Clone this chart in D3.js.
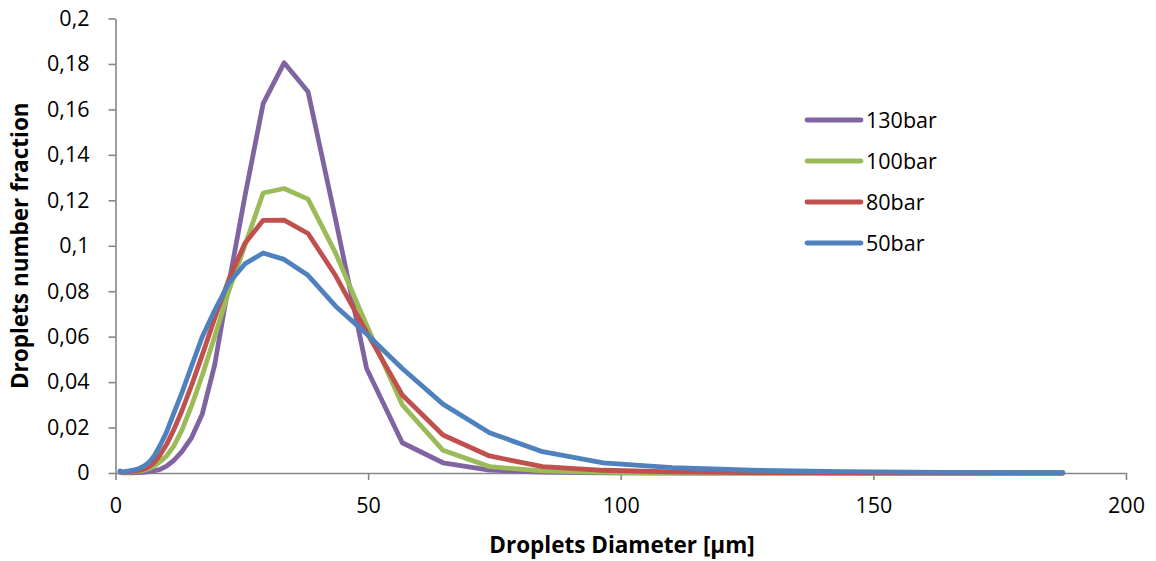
<!DOCTYPE html>
<html>
<head>
<meta charset="utf-8">
<script src="https://cdn.jsdelivr.net/npm/d3@7"></script>
<style>
  html, body { margin: 0; padding: 0; background: #fff; }
  svg { display: block; }
  text { font-family: "Open Sans", "Noto Sans", sans-serif; fill: #000; }
</style>
</head>
<body>
<svg id="chart" width="1156" height="561"></svg>
<script>
// Droplet diameter classes [µm]
const diameters = [0.93, 1.06, 1.21, 1.38, 1.57, 1.80, 2.05, 2.34, 2.68, 3.06, 3.49, 3.99,
  4.55, 5.20, 5.94, 6.78, 7.74, 8.84, 10.10,
  11.53, 13.17, 15.04, 17.18, 19.62, 22.41, 25.59,
  29.22, 33.37, 38.11, 43.52, 49.70,
  56.76, 64.82, 74.02, 84.53, 96.54,
  110.25, 125.9, 143.8, 164.2, 187.5];

// Number fraction per class for each injection pressure
const bar130 = [0.0002, 0.0002, 0.0001, 0.0001, 0.0001, 0.0001, 0.0001, 0.0001, 0.0001, 0.0001, 0.0001, 0.0002,
  0.0002, 0.0003, 0.0004, 0.0007, 0.0010, 0.0016, 0.0030,
  0.0055, 0.0095, 0.0155, 0.0260, 0.0475, 0.0830, 0.1215,
  0.1625, 0.1805, 0.1678, 0.1120, 0.0460,
  0.0133, 0.0045, 0.0013, 0.0004, 0.0001,
  0, 0, 0, 0, 0];
const bar100 = [0.0006, 0.0004, 0.0003, 0.0003, 0.0003, 0.0003, 0.0003, 0.0004, 0.0004, 0.0005, 0.0006, 0.0007,
  0.0008, 0.0010, 0.0014, 0.0020, 0.0032, 0.0050, 0.0075,
  0.0118, 0.0190, 0.0295, 0.0430, 0.0600, 0.0800, 0.1000,
  0.1232, 0.1252, 0.1205, 0.0970, 0.0650,
  0.0300, 0.0100, 0.0028, 0.0009, 0.0003,
  0.0001, 0, 0, 0, 0];
const bar80 = [0.0008, 0.0006, 0.0005, 0.0004, 0.0004, 0.0004, 0.0005, 0.0005, 0.0006, 0.0007, 0.0008, 0.0009,
  0.0011, 0.0014, 0.0020, 0.0030, 0.0048, 0.0080, 0.0125,
  0.0190, 0.0275, 0.0385, 0.0520, 0.0680, 0.0850, 0.1010,
  0.1112, 0.1113, 0.1054, 0.0870, 0.0620,
  0.0343, 0.0167, 0.0075, 0.0028, 0.0012,
  0.0005, 0.0002, 0.0001, 0, 0];
const bar50 = [0.0009, 0.0007, 0.0006, 0.0005, 0.0005, 0.0006, 0.0007, 0.0008, 0.0009, 0.0011, 0.0013, 0.0015,
  0.0019, 0.0025, 0.0035, 0.0050, 0.0078, 0.0122, 0.0180,
  0.0262, 0.0355, 0.0470, 0.0600, 0.0715, 0.0835, 0.0920,
  0.0968, 0.0940, 0.0870, 0.0735, 0.0612,
  0.0460, 0.0303, 0.0177, 0.0094, 0.0045,
  0.0024, 0.0012, 0.0006, 0.0003, 0.0001];

const seriesNames = ["130bar", "100bar", "80bar", "50bar"];
const seriesValues = [bar130, bar100, bar80, bar50];
const seriesColors = ["#8064A2", "#9BBB59", "#C0504D", "#4F81BD"];

const xTicks = [0, 50, 100, 150, 200];
const yTicks = [0, 0.02, 0.04, 0.06, 0.08, 0.1, 0.12, 0.14, 0.16, 0.18, 0.2];

const xTitle = "Droplets Diameter [µm]";
const yTitle = "Droplets number fraction";

// Layout
const plot = { left: 115.5, right: 1126, top: 18.5, bottom: 473 };
const axisColor = "#868686";

const svg = d3.select("#chart");
svg.append("rect").attr("width", 1156).attr("height", 561).attr("fill", "#fff");

const x = d3.scaleLinear().domain([0, 200]).range([plot.left, plot.right]);
const y = d3.scaleLinear().domain([0, 0.2]).range([plot.bottom, plot.top]);

const locale = d3.formatLocale({ decimal: ",", thousands: ".", grouping: [3], currency: ["", "€"] });
const fmt = locale.format("~g");

// Y axis
const yAxis = svg.append("g")
  .attr("transform", `translate(${plot.left},0)`)
  .call(d3.axisLeft(y).tickValues(yTicks).tickFormat(fmt).tickSize(7).tickPadding(19).tickSizeOuter(0));
// X axis
const xAxis = svg.append("g")
  .attr("transform", `translate(0,${plot.bottom})`)
  .call(d3.axisBottom(x).tickValues(xTicks).tickFormat(d => d).tickSize(7).tickPadding(18).tickSizeOuter(0));

[xAxis, yAxis].forEach(g => {
  g.select(".domain").attr("stroke", axisColor).attr("stroke-width", 1.6);
  g.selectAll(".tick line").attr("stroke", axisColor).attr("stroke-width", 1.6);
  g.selectAll(".tick text").attr("font-size", 21.5).attr("fill", "#000")
    .attr("font-family", "'Open Sans', sans-serif");
});

// Series lines (first series drawn underneath)
const line = d3.line()
  .x((d, i) => x(diameters[i]))
  .y(d => y(d));

const lines = svg.append("g");
seriesValues.forEach((vals, k) => {
  lines.append("path")
    .datum(vals)
    .attr("d", line)
    .attr("fill", "none")
    .attr("stroke", seriesColors[k])
    .attr("stroke-width", 4.8)
    .attr("stroke-linejoin", "round")
    .attr("stroke-linecap", "round");
});

// Legend
const legend = svg.append("g").attr("transform", "translate(807,120)");
seriesNames.forEach((name, k) => {
  const row = legend.append("g").attr("transform", `translate(0,${k * 41})`);
  row.append("line")
    .attr("x1", 0).attr("x2", 54).attr("y1", 0).attr("y2", 0)
    .attr("stroke", seriesColors[k]).attr("stroke-width", 4.8).attr("stroke-linecap", "round");
  row.append("text")
    .attr("x", 59).attr("y", 0).attr("dy", "0.35em")
    .attr("font-size", 21.5)
    .text(name);
});

// Axis titles
svg.append("text")
  .attr("x", 622).attr("y", 553)
  .attr("text-anchor", "middle")
  .attr("font-weight", "bold").attr("font-size", 22.5)
  .text(xTitle);

svg.append("text")
  .attr("transform", `translate(28,${(plot.top + plot.bottom) / 2}) rotate(-90)`)
  .attr("text-anchor", "middle")
  .attr("font-weight", "bold").attr("font-size", 22.5)
  .text(yTitle);
</script>
</body>
</html>
